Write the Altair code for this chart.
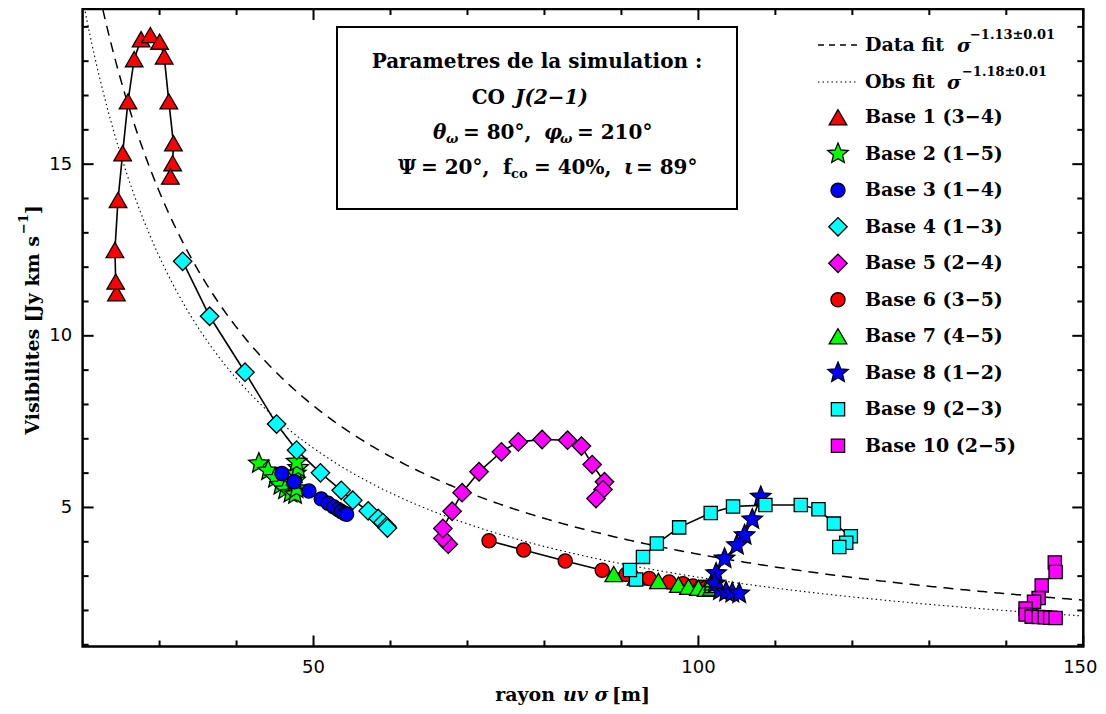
import altair as alt
import numpy as np
import pandas as pd

# ---------------- data ----------------
labels = ["Base 1 (3−4)", "Base 2 (1−5)", "Base 3 (1−4)", "Base 4 (1−3)", "Base 5 (2−4)",
          "Base 6 (3−5)", "Base 7 (4−5)", "Base 8 (1−2)", "Base 9 (2−3)", "Base 10 (2−5)"]

b1_x = [24.4, 24.3, 24.2, 24.6, 25.2, 25.9, 26.7, 27.6, 28.8, 30.0, 30.6, 31.2, 31.8, 31.7, 31.4]
b1_y = [11.24, 11.58, 12.50, 13.96, 15.32, 16.83, 18.06, 18.64, 18.76, 18.57, 18.14, 16.83, 15.61, 15.03, 14.64]

b2_x = [42.9, 44.1, 45.0, 45.7, 46.3, 47.0, 47.6, 47.8, 47.6, 47.7, 48.0, 47.8]
b2_y = [6.28, 6.07, 5.85, 5.65, 5.52, 5.42, 5.38, 5.55, 5.78, 5.99, 6.15, 6.33]

b3_x = [45.9, 47.5, 49.4, 51.0, 51.9, 52.6, 53.2, 53.6, 54.0, 54.3]
b3_y = [5.99, 5.75, 5.48, 5.25, 5.12, 5.02, 4.94, 4.88, 4.83, 4.80]

b4_x = [33.0, 36.5, 41.1, 45.2, 47.8, 50.9, 53.6, 55.1, 57.1, 58.4, 59.0, 59.5, 59.6]
b4_y = [12.17, 10.57, 8.94, 7.43, 6.67, 6.01, 5.50, 5.21, 4.90, 4.68, 4.56, 4.45, 4.40]

b5_x = [67.5, 66.8, 66.8, 68.0, 69.3, 71.5, 74.4, 76.6, 79.7, 83.0, 84.8, 86.2, 87.8, 87.6, 86.7]
b5_y = [3.93, 4.10, 4.39, 4.89, 5.43, 6.04, 6.62, 6.91, 6.98, 6.96, 6.79, 6.25, 5.75, 5.52, 5.26]

b6_x = [72.8, 77.3, 82.7, 87.5, 90.6, 93.6, 96.2, 98.0, 99.3, 100.3, 101.0]
b6_y = [4.03, 3.76, 3.44, 3.17, 3.05, 2.93, 2.83, 2.78, 2.71, 2.68, 2.66]

b7_x = [89.0, 91.9, 94.8, 97.4, 98.7, 100.0, 101.0, 101.7, 101.9, 101.9, 101.9]
b7_y = [3.06, 2.96, 2.86, 2.75, 2.69, 2.66, 2.63, 2.66, 2.74, 2.82, 2.91]

b8_x = [108.1, 107.0, 106.0, 105.0, 103.4, 102.3, 102.1, 102.8, 103.6, 104.4, 105.3]
b8_y = [5.31, 4.65, 4.19, 3.90, 3.51, 3.08, 2.78, 2.58, 2.54, 2.51, 2.49]

b9_x = [91.9, 91.1, 92.8, 94.6, 97.5, 101.6, 104.5, 108.7, 113.3, 115.6, 117.6, 119.8, 119.2, 118.3]
b9_y = [2.90, 3.18, 3.56, 3.95, 4.42, 4.84, 5.03, 5.07, 5.07, 4.95, 4.53, 4.16, 3.97, 3.85]

b10_x = [146.3, 146.4, 144.6, 144.2, 143.6, 142.5, 142.5, 143.3, 144.2, 145.0, 145.7, 146.4]
b10_y = [3.40, 3.12, 2.73, 2.36, 2.25, 2.06, 1.88, 1.82, 1.81, 1.80, 1.79, 1.78]

# power-law fits V = A * sigma^p
fit_data_amp, fit_data_exp = 662.0, -1.13
fit_obs_amp, fit_obs_exp = 680.0, -1.18

x_major = [50, 100, 150]
x_major_labels = ["50", "100", "150"]
x_minor = [30, 40, 60, 70, 80, 90, 110, 120, 130, 140]
y_major = [5, 10, 15]
y_minor = [1, 2, 3, 4, 6, 7, 8, 9, 11, 12, 13, 14, 16, 17, 18, 19]

# ---------------- styles ----------------
STAR = ("M0,-1L0.2645,-0.364L0.951,-0.309L0.428,0.139L0.588,0.809L0,0.45"
        "L-0.588,0.809L-0.428,0.139L-0.951,-0.309L-0.2645,-0.364Z")
colors = ["#ff0000", "#00ff00", "#0000ff", "#00ffff", "#ff00ff",
          "#ff0000", "#00ff00", "#0000ff", "#00ffff", "#ff00ff"]
shapes = ["triangle-up", STAR, "circle", "diamond", "diamond",
          "circle", "triangle-up", STAR, "square", "square"]
sizes = [310, 460, 200, 340, 340, 200, 310, 460, 175, 175]

SERIF = "DejaVu Serif"
SANS = "DejaVu Sans"
W, H = 1000.7, 637.5
OX, OY = 82.6, 9.0

series = [(b1_x, b1_y), (b2_x, b2_y), (b3_x, b3_y), (b4_x, b4_y), (b5_x, b5_y),
          (b6_x, b6_y), (b7_x, b7_y), (b8_x, b8_y), (b9_x, b9_y), (b10_x, b10_y)]
rows = []
for k, (xs, ys) in enumerate(series):
    for i, (a, b) in enumerate(zip(xs, ys)):
        rows.append(dict(base=labels[k], k=k, i=i, sigma=a, vis=b, sz=sizes[k]))
df = pd.DataFrame(rows)

sig = np.linspace(20, 150, 500)
fit_d = pd.DataFrame({"sigma": sig, "vis": fit_data_amp * sig ** fit_data_exp})
fit_o = pd.DataFrame({"sigma": sig, "vis": fit_obs_amp * sig ** fit_obs_exp})

one = pd.DataFrame({"a": [0]})

XS = alt.Scale(domain=[20, 150], nice=False, zero=False)
YS = alt.Scale(domain=[0.95, 19.52], nice=False, zero=False)
x_axis = alt.Axis(values=x_major, ticks=False, domain=False, grid=False, labels=False, title=None)
y_axis = alt.Axis(values=y_major, ticks=False, domain=False, grid=False, labelFont=SANS,
                  labelFontSize=18, labelColor="black", labelPadding=11, title=None,
                  labelFlush=False, labelOverlap=False)


def X(f):
    return alt.X(f, type="quantitative", scale=XS, axis=x_axis)


def Y(f):
    return alt.Y(f, type="quantitative", scale=YS, axis=y_axis)


def T(s, px, py, size=19, style="normal", weight="bold", align="left", font=SERIF, angle=0):
    kw = dict(text=s, align=align, baseline="middle", font=font, fontSize=size,
              fontStyle=style, fontWeight=weight, color="black")
    if angle:
        kw["angle"] = angle
    return alt.Chart(one).mark_text(**kw).encode(x=alt.value(px - OX), y=alt.value(py - OY))


layers = []
# fits
layers.append(alt.Chart(fit_d).mark_line(clip=True, color="black", strokeWidth=1.5,
                                           strokeDash=[10, 7]).encode(x=X("sigma"), y=Y("vis")))
layers.append(alt.Chart(fit_o).mark_line(clip=True, color="black", strokeWidth=1.1,
                                           strokeDash=[1.5, 3]).encode(x=X("sigma"), y=Y("vis")))
# series lines
layers.append(alt.Chart(df).mark_line(color="black", strokeWidth=1.6).encode(
    x=X("sigma"), y=Y("vis"), detail="base:N", order="i:Q"))
# series points
layers.append(alt.Chart(df).mark_point(filled=True, stroke="black", strokeWidth=1.3, opacity=1).encode(
    x=X("sigma"), y=Y("vis"),
    fill=alt.Fill("base:N", scale=alt.Scale(domain=labels, range=colors), legend=None),
    shape=alt.Shape("base:N", scale=alt.Scale(domain=labels, range=shapes), legend=None),
    size=alt.Size("sz:Q", scale=None)))


# ticks (inward)
def xticks(vals, ln):
    d = pd.DataFrame({"sigma": vals})
    b = alt.Chart(d).mark_rule(color="black", strokeWidth=2).encode(
        x=X("sigma"), y=alt.value(H), y2=alt.value(H - ln))
    t = alt.Chart(d).mark_rule(color="black", strokeWidth=2).encode(
        x=X("sigma"), y=alt.value(0), y2=alt.value(ln))
    return [b, t]


def yticks(vals, ln):
    d = pd.DataFrame({"vis": vals})
    l = alt.Chart(d).mark_rule(color="black", strokeWidth=2).encode(
        y=Y("vis"), x=alt.value(0), x2=alt.value(ln))
    r = alt.Chart(d).mark_rule(color="black", strokeWidth=2).encode(
        y=Y("vis"), x=alt.value(W), x2=alt.value(W - ln))
    return [l, r]


layers += xticks(x_major, 11) + xticks(x_minor, 6) + yticks(y_major, 11) + yticks(y_minor, 6)

# x tick labels (last one nudged so it stays on the page)
xl = pd.DataFrame({"sigma": x_major, "lab": x_major_labels})
layers.append(alt.Chart(xl[xl["sigma"] < 150]).mark_text(
    font=SANS, fontSize=18, color="black", baseline="middle", align="center").encode(
    x=X("sigma"), y=alt.value(668 - OY), text="lab:N"))
layers.append(alt.Chart(xl[xl["sigma"] >= 150]).mark_text(
    font=SANS, fontSize=18, color="black", baseline="middle", align="center", dx=-3).encode(
    x=X("sigma"), y=alt.value(668 - OY), text="lab:N"))

# parameter box
layers.append(alt.Chart(one).mark_rect(fill="white", stroke="black", strokeWidth=2).encode(
    x=alt.value(337 - OX), x2=alt.value(737 - OX), y=alt.value(27 - OY), y2=alt.value(209 - OY)))
BS = 20
layers += [
    T("Parametres de la simulation :", 537, 62, size=BS, align="center"),
    T("CO", 505, 98, size=BS, align="right"), T("J(2−1)", 515, 98, size=BS, style="italic"),
    T("θ", 433, 133, size=BS, style="italic"), T("ω", 446, 139, size=13, style="italic"),
    T("= 80°,", 463, 133, size=BS),
    T("φ", 544, 133, size=BS, style="italic"), T("ω", 560, 139, size=13, style="italic"),
    T("= 210°", 577, 133, size=BS),
    T("Ψ", 398, 168, size=BS), T("= 20°,", 421, 168, size=BS),
    T("f", 503, 168, size=BS), T("co", 511, 174, size=13), T("= 40%,", 534, 168, size=BS),
    T("ι", 624, 168, size=BS, style="italic"), T("= 89°", 636, 168, size=BS),
]

# legend
layers.append(alt.Chart(one).mark_rule(color="black", strokeWidth=1.5, strokeDash=[6, 5]).encode(
    x=alt.value(818 - OX), x2=alt.value(857 - OX), y=alt.value(45 - OY)))
layers.append(alt.Chart(one).mark_rule(color="black", strokeWidth=1.1, strokeDash=[1.5, 3]).encode(
    x=alt.value(818 - OX), x2=alt.value(857 - OX), y=alt.value(82 - OY)))
layers += [
    T("Data fit", 865, 45), T("σ", 957, 46, style="italic"), T("−1.13±0.01", 970, 35, size=13),
    T("Obs fit", 865, 82), T("σ", 947, 83, style="italic"), T("−1.18±0.01", 962, 72, size=13),
]
for k, lab in enumerate(labels):
    ly = 117.3 + 36.5 * k
    layers.append(alt.Chart(one).mark_point(filled=True, shape=shapes[k], fill=colors[k], stroke="black",
                                            strokeWidth=1.3, size=sizes[k], opacity=1).encode(
        x=alt.value(838 - OX), y=alt.value(ly - OY)))
    layers.append(T(lab, 865, ly))

# axis titles
layers += [
    T("rayon", 555, 695, align="right"), T("uv σ", 563, 695, style="italic"), T("[m]", 612, 695),
    T("Visibilites [Jy km s", 33, 236, angle=270, align="right"),
    T("−1", 24, 234, size=13, angle=270),
    T("]", 33, 214, angle=270),
]

chart = alt.layer(*layers).properties(
    width=W, height=H,
    autosize=alt.AutoSizeParams(type="none"),
    padding={"left": OX - 8, "top": OY - 8, "right": 14.6, "bottom": 59},
    background="white",
).configure_view(stroke="black", strokeWidth=2.5)

chart.save("out.html", embed_options={"renderer": "svg", "actions": False})
